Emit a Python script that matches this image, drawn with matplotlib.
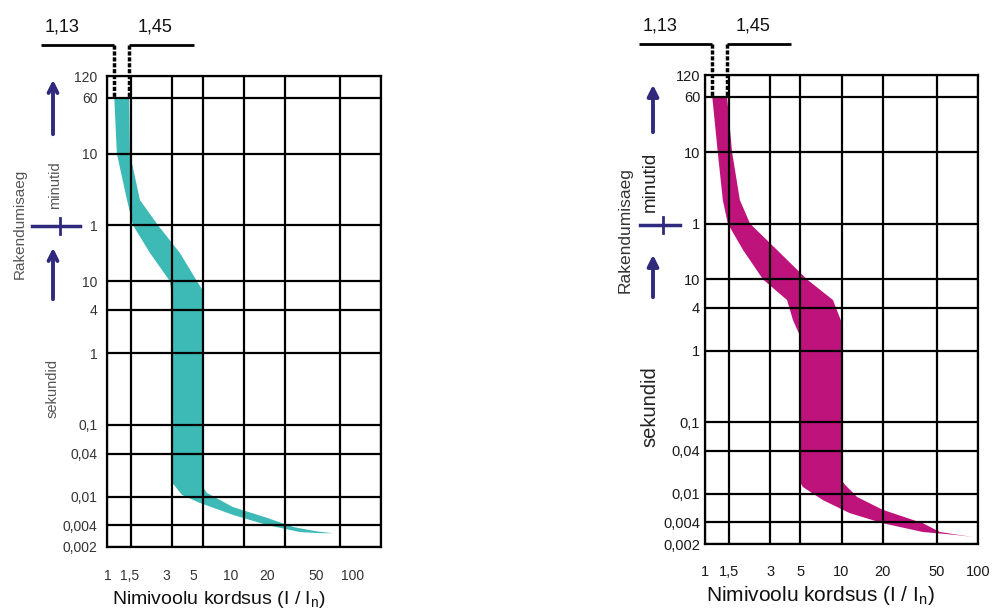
import numpy as np
import matplotlib
matplotlib.use('Agg')
import matplotlib.pyplot as plt
import matplotlib.transforms as mtransforms
from matplotlib.lines import Line2D
from matplotlib.ticker import FixedLocator, NullLocator, NullFormatter

# multiples of rated current I/In
x_ticks = [1, 1.5, 3, 5, 10, 20, 50, 100]
x_labels = ['1', '1,5', '3', '5', '10', '20', '50', '100']
# trip time in seconds (top part is labelled in minutes)
y_ticks = [7200, 3600, 600, 60, 10, 4, 1, 0.1, 0.04, 0.01, 0.004, 0.002]
y_labels = ['120', '60', '10', '1', '10', '4', '1', '0,1', '0,04', '0,01', '0,004', '0,002']
conv_limits = [1.13, 1.45]
conv_labels = ['1,13', '1,45']

# B characteristic band (fast edge / slow edge)
b_fast_x = [1.13, 1.18, 1.40, 1.55, 2.06, 2.88, 3.0, 3.0, 3.53, 4.77, 8.3, 14.7, 25.6, 34, 45]
b_fast_t = [3600, 600, 135, 60, 24.7, 10, 5.5, 0.0156, 0.0106, 0.0082, 0.0056, 0.00405, 0.00323, 0.00313, 0.0031]
b_slow_x = [1.45, 1.47, 1.74, 2.36, 3.41, 4.54, 5.0, 5.0, 5.37, 8.3, 14.7, 22.8, 34, 45]
b_slow_t = [3600, 600, 135, 60, 24.7, 10, 7.5, 0.0137, 0.0113, 0.0072, 0.0051, 0.0038, 0.0033, 0.0031]

# C characteristic band
c_fast_x = [1.13, 1.24, 1.35, 1.47, 1.90, 2.66, 3.99, 4.41, 5.0, 5.0, 5.22, 7.32, 11.5, 20.1, 39.5, 70, 92]
c_fast_t = [3600, 600, 129, 60, 25.8, 10, 5.15, 2.7, 1.57, 0.0143, 0.0125, 0.0082, 0.0054, 0.0039, 0.00294, 0.00267, 0.0025]
c_slow_x = [1.45, 1.58, 1.80, 2.14, 3.37, 5.59, 8.66, 10.0, 10.0, 10.6, 13.0, 20.1, 39.5, 52.7, 92]
c_slow_t = [3600, 600, 129, 60, 25.8, 10, 5.15, 2.54, 0.0157, 0.0135, 0.0091, 0.006, 0.0039, 0.00294, 0.0025]

W, H = 1002, 610
fig = plt.figure(figsize=(W / 100, H / 100), dpi=100)
plt.rcParams['font.family'] = ['Liberation Sans', 'DejaVu Sans']

navy = '#2f2a7c'


def px(x, y):
    return x / W, 1 - y / H


def panel(rect, fx, ft, sx, st, color, tick_fs, tick_col, ypad, xlab_pos, xlab_fs, show_xlabels):
    ax = fig.add_axes(rect)
    ax.set_xscale('log')
    ax.set_yscale('log')
    ax.set_xlim(x_ticks[0], x_ticks[-1])
    ax.set_ylim(y_ticks[-1], y_ticks[0])
    ax.fill(fx + sx[::-1], ft + st[::-1], color=color, lw=0, zorder=1)

    ax.xaxis.set_major_locator(FixedLocator(x_ticks))
    ax.set_xticklabels(x_labels)
    ax.xaxis.set_minor_locator(FixedLocator(x_ticks[:2]))
    ax.xaxis.set_minor_formatter(NullFormatter())
    ax.yaxis.set_major_locator(FixedLocator(y_ticks))
    ax.set_yticklabels(y_labels)
    ax.yaxis.set_minor_locator(NullLocator())
    ax.tick_params(which='major', length=0, labelsize=tick_fs, labelcolor=tick_col)
    ax.tick_params(axis='y', pad=ypad)
    ax.tick_params(axis='x', pad=15, labelbottom=show_xlabels)
    ax.tick_params(axis='x', which='minor', length=4, width=1.6, direction='out', color='black')
    ax.grid(True, which='major', color='black', lw=1.6)
    ax.set_axisbelow(False)
    for s in ax.spines.values():
        s.set_linewidth(1.6)

    ax.set_xlabel(r'Nimivoolu kordsus (I / I$_\mathregular{n}$)', fontsize=xlab_fs, color='#111')
    ax.xaxis.set_label_coords(*xlab_pos)

    # conventional non-trip / trip current markers above the chart
    lo, hi = np.log10(y_ticks[-1]), np.log10(y_ticks[0])
    top = 10 ** (lo + 1.066 * (hi - lo))
    ax.plot([0.33, conv_limits[0]], [top, top], color='black', lw=2, clip_on=False, solid_capstyle='butt')
    ax.plot([conv_limits[1], 4.3], [top, top], color='black', lw=2, clip_on=False, solid_capstyle='butt')
    for xv in conv_limits:
        ax.plot([xv, xv], [top, y_ticks[1]], color='black', lw=2.5, ls=(0, (1.2, 0.5)), clip_on=False)
    trans = mtransforms.blended_transform_factory(ax.transData, ax.transAxes)
    for xv, lab in zip([0.47, 2.25], conv_labels):
        ax.text(xv, 1.104, lab, transform=trans, ha='center', va='center', fontsize=13, color='#111')
    return ax


axl = panel([107 / W, 1 - 547 / H, 274 / W, 471 / H], b_fast_x, b_fast_t, b_slow_x, b_slow_t,
            '#3dbab6', 10, '#333333', 7, ((219 - 107) / 274, -0.089), 14, False)
axr = panel([705 / W, 1 - 544 / H, 273 / W, 469 / H], c_fast_x, c_fast_t, c_slow_x, c_slow_t,
            '#bf137c', 10.5, '#1a1a1a', 3.5, ((820 - 705) / 273, -0.085), 15, True)

# left chart has its current labels slightly compressed
lab = fig.add_axes([108 / W, 1 - 547 / H, 245 / W, 0.0001])
lab.set_xscale('log')
lab.set_xlim(x_ticks[0], x_ticks[-1])
lab.xaxis.set_major_locator(FixedLocator(x_ticks))
lab.set_xticklabels(x_labels)
lab.xaxis.set_minor_locator(NullLocator())
lab.set_yticks([])
lab.tick_params(length=0, pad=16, labelsize=10, labelcolor='#333333')
for s in lab.spines.values():
    s.set_visible(False)
lab.patch.set_alpha(0)


def side(xc, arrow1, arrow2, sep, labels, head):
    for (y0, y1) in (arrow1, arrow2):
        fig.add_artist(matplotlib.patches.FancyArrowPatch(px(xc, y0), px(xc, y1), transform=fig.transFigure,
                                                          arrowstyle=head, mutation_scale=16, lw=2.8,
                                                          color=navy))
    x0, x1, xb, yb = sep
    fig.add_artist(Line2D([px(x0, 0)[0], px(x1, 0)[0]], [px(0, yb)[1]] * 2, transform=fig.transFigure,
                          color=navy, lw=2.5))
    fig.add_artist(Line2D([px(xb, 0)[0]] * 2, [px(0, yb - 8)[1], px(0, yb + 8)[1]], transform=fig.transFigure,
                          color=navy, lw=2))
    for (x, y, txt, fs, col) in labels:
        fig.text(*px(x, y), txt, rotation=90, ha='center', va='center', fontsize=fs, color=col)


side(53, (137, 77), (302, 245), (32, 80, 60, 226),
     [(20, 224, 'Rakendumisaeg', 11, '#555555'), (55, 185, 'minutid', 10.5, '#555555'),
      (53, 388, 'sekundid', 10.5, '#555555')], '->')
side(653, (135, 82), (300, 252), (640, 680, 663, 225),
     [(625, 230, 'Rakendumisaeg', 12.5, '#333333'), (650, 182, 'minutid', 13.5, '#222222'),
      (650, 407, 'sekundid', 14.5, '#222222')], '-|>')

fig.savefig('out.png', dpi=100)
